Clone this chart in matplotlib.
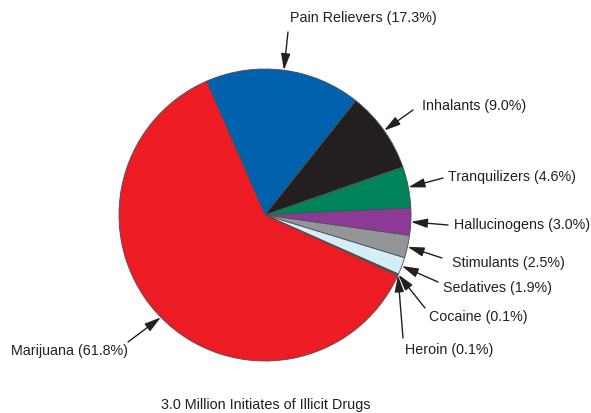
import numpy as np
import matplotlib.pyplot as plt

labels = ["Pain Relievers", "Inhalants", "Tranquilizers", "Hallucinogens",
          "Stimulants", "Sedatives", "Cocaine", "Heroin", "Marijuana"]
shares = [17.3, 9.0, 4.6, 3.0, 2.5, 1.9, 0.1, 0.1, 61.8]
colors = ["#0062AC", "#231F20", "#00825A", "#8D3A97", "#939598",
          "#D5EDF5", "#6DAA45", "#EDE35B", "#ED1C24"]
title = "3.0 Million Initiates of Illicit Drugs"

W, H = 591, 413
fig = plt.figure(figsize=(W / 100, H / 100), dpi=100)
ax = fig.add_axes([0, 0, 1, 1])

cx, cy, r = 265, H - 215, 146
wedges, _ = ax.pie(shares, colors=colors, startangle=113.6, counterclock=False,
                   center=(cx, cy), radius=r,
                   wedgeprops=dict(edgecolor="#4d4d4f", linewidth=0.6))
ax.set_xlim(0, W)
ax.set_ylim(0, H)
ax.set_aspect("equal")
ax.axis("off")

# arrow tail and text anchor (pixel coords, y from top)
tails = [(288, 32), (413, 110), (443, 178), (448, 225), (442, 258),
         (438, 282), (425, 308), (403, 338), (128, 342)]
texts = [(290, 18, "left"), (422, 106, "left"), (448, 177, "left"),
         (454, 225, "left"), (452, 263, "left"), (443, 288, "left"),
         (429, 317, "left"), (405, 350, "left"), (128, 351, "right")]

tc = "#231F20"
fnt = "Liberation Sans"
for w, lab, s, tail, (tx, ty, ha) in zip(wedges, labels, shares, tails, texts):
    mid = np.deg2rad((w.theta1 + w.theta2) / 2)
    tip = (cx + r * np.cos(mid), cy + r * np.sin(mid))
    ax.annotate("", xy=tip, xytext=(tail[0], H - tail[1]),
                arrowprops=dict(arrowstyle="-|>,head_length=1.0,head_width=0.28",
                                color="#231F20", lw=1.0, shrinkA=0, shrinkB=0))
    ax.text(tx, H - ty, f"{lab} ({s:.1f}%)", ha=ha, va="center",
            fontsize=10.3, color=tc, family=fnt)

ax.text(266, H - 405, title, ha="center", va="center", fontsize=10.4,
        color=tc, family=fnt)

fig.savefig("out.png", dpi=100)
